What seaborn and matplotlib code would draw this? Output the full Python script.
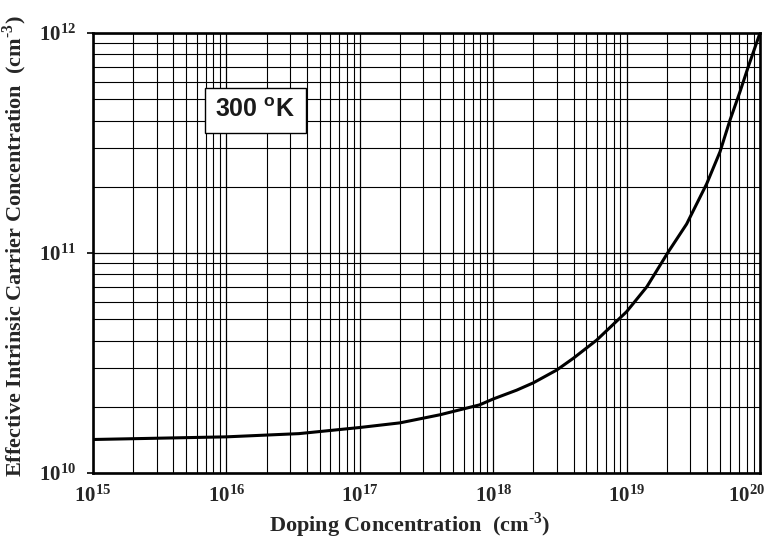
import matplotlib
matplotlib.use("Agg")
import matplotlib.pyplot as plt
import matplotlib.ticker as mticker
import numpy as np
import pandas as pd
import seaborn as sns

# Data
doping = [1e15, 1.8e15, 1e16, 3.5e16, 1e17, 2.0e17, 4.0e17, 7.9e17, 1.0e18, 1.5e18,
          2.0e18, 3.0e18, 3.98e18, 5.97e18, 1.0e19, 1.42e19, 2.05e19, 2.82e19, 3.98e19,
          5.01e19, 5.96e19, 7.08e19, 8.17e19, 1.0e20]
nie = [1.42e10, 1.43e10, 1.46e10, 1.51e10, 1.61e10, 1.69e10, 1.84e10, 2.04e10, 2.17e10, 2.38e10,
       2.57e10, 2.94e10, 3.32e10, 4.02e10, 5.41e10, 7.03e10, 1.01e11, 1.355e11, 2.06e11,
       2.88e11, 4.02e11, 5.41e11, 7.03e11, 1.0e12]
xtick_vals = [1e15, 1e16, 1e17, 1e18, 1e19, 1e20]
xtick_labels = [r"$\mathbf{10^{15}}$", r"$\mathbf{10^{16}}$", r"$\mathbf{10^{17}}$",
                r"$\mathbf{10^{18}}$", r"$\mathbf{10^{19}}$", r"$\mathbf{10^{20}}$"]
ytick_vals = [1e10, 1e11, 1e12]
ytick_labels = [r"$\mathbf{10^{10}}$", r"$\mathbf{10^{11}}$", r"$\mathbf{10^{12}}$"]
xlabel = r"Doping Concentration  (cm$^{\text{-3}}$)"
ylabel = r"Effective Intrinsic Carrier Concentration  (cm$^{\text{-3}}$)"
annotation = r"300 $^{\mathsf{o}}$K"

sns.set_style("white")
plt.rcParams["font.family"] = ["Liberation Serif", "DejaVu Serif"]
plt.rcParams["mathtext.fontset"] = "custom"
plt.rcParams["mathtext.rm"] = "Liberation Serif:bold"
plt.rcParams["mathtext.bf"] = "Liberation Serif:bold"
plt.rcParams["mathtext.sf"] = "Liberation Sans:bold"

df = pd.DataFrame({"doping": doping, "nie": nie})

fig = plt.figure(figsize=(7.67, 5.42), dpi=100)
ax = fig.add_axes([93 / 767, 1 - 473 / 542, 667 / 767, 440 / 542])

sns.lineplot(data=df, x="doping", y="nie", ax=ax, color="black", linewidth=2.2)
ax.set_xscale("log")
ax.set_yscale("log")
ax.set_xlim(1e15, 1e20)
ax.set_ylim(1e10, 1e12)

tick_fs = 15
ax.set_xticks(xtick_vals)
# last label is drawn separately (shifted left so it stays inside the figure)
ax.set_xticklabels(xtick_labels[:-1] + [""], fontsize=tick_fs)
ax.annotate(xtick_labels[-1], xy=(xtick_vals[-1], 0), xycoords=ax.get_xaxis_transform(),
            xytext=(-9.5, -9), textcoords="offset points", ha="center", va="top",
            fontsize=tick_fs, annotation_clip=False)
ax.set_yticks(ytick_vals)
ax.set_yticklabels(ytick_labels, fontsize=tick_fs)
ax.xaxis.set_minor_locator(mticker.LogLocator(base=10, subs=np.arange(2, 10), numticks=20))
ax.yaxis.set_minor_locator(mticker.LogLocator(base=10, subs=np.arange(2, 10), numticks=20))
ax.xaxis.set_minor_formatter(mticker.NullFormatter())
ax.yaxis.set_minor_formatter(mticker.NullFormatter())

ax.grid(which="major", color="black", linewidth=0.9)
ax.grid(which="minor", color="black", linewidth=0.8)
ax.tick_params(axis="x", which="both", length=0, pad=9)
ax.tick_params(axis="y", which="major", length=4, width=1.2, color="black", pad=8, direction="out", left=True)
ax.tick_params(axis="y", which="minor", length=0)

for s in ax.spines.values():
    s.set_color("black")
    s.set_linewidth(1.9)

ax.set_xlabel(xlabel, fontsize=16, fontweight="bold")
ax.xaxis.set_label_coords(0.475, -0.085)
ax.set_ylabel(ylabel, fontsize=16, fontweight="bold")
ax.yaxis.set_label_coords(-0.096, 0.516)

ax.text(0.2436, 0.825, annotation, transform=ax.transAxes, ha="center", va="center",
        fontsize=18, fontfamily="Liberation Sans", fontweight="bold", color="#1a1a1a",
        bbox=dict(boxstyle="square,pad=0.42", facecolor="white", edgecolor="black", linewidth=1.0),
        zorder=5)

fig.savefig("out.png", dpi=100)
